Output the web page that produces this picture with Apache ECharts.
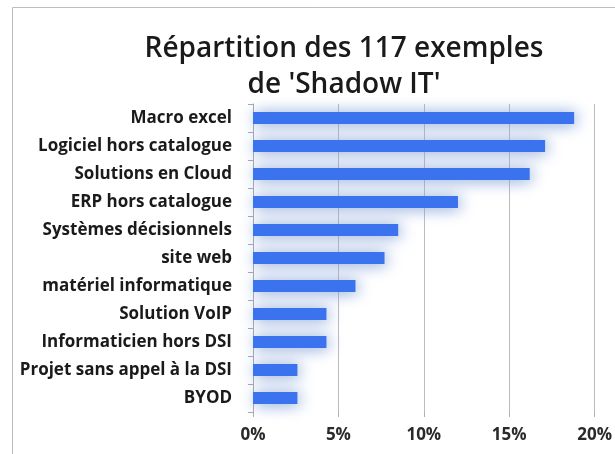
<!DOCTYPE html>
<html>
<head>
<meta charset="utf-8">
<script src="https://cdn.jsdelivr.net/npm/echarts@6/dist/echarts.min.js"></script>
<style>
html,body{margin:0;padding:0;background:#fff;}
#c{width:615px;height:454px;}
</style>
</head>
<body>
<div id="c"></div>
<script>
// Data (top to bottom as in the picture)
const categories = ['Macro excel','Logiciel hors catalogue','Solutions en Cloud','ERP hors catalogue','Systèmes décisionnels','site web','matériel informatique','Solution VoIP','Informaticien hors DSI','Projet sans appel à la DSI','BYOD'];
const shares = [18.8, 17.1, 16.2, 12.0, 8.5, 7.7, 6.0, 4.3, 4.3, 2.6, 2.6];
const xTicks = [0, 5, 10, 15, 20];
const titleLines = ['Répartition des 117 exemples', "de 'Shadow IT'"];

const chart = echarts.init(document.getElementById('c'), null, {renderer:'canvas'});
const font = '"Open Sans", Lato, sans-serif';
chart.setOption({
  backgroundColor: '#fff',
  animation: false,
  title: {
    text: titleLines.join('\n'),
    left: 339, top: 26, textAlign: 'center',
    textStyle: {fontFamily: font, fontSize: 28, fontWeight: 600, color: '#1a1a1a', lineHeight: 36}
  },
  graphic: [{
    type: 'polyline', silent: true,
    shape: {points: [[12.5, 454], [12.5, 7.5], [615, 7.5]]},
    style: {stroke: '#bdbdbd', lineWidth: 1, fill: null}
  }],
  grid: {left: 253, right: 19, top: 104, bottom: 42, containLabel: false},
  xAxis: {
    type: 'value', min: xTicks[0], max: xTicks[xTicks.length-1], interval: 5,
    axisLine: {show: false},
    axisTick: {show: true, length: 5, lineStyle: {color: '#b0b0b0'}},
    splitLine: {show: true, lineStyle: {color: '#bcbcbc', width: 1}},
    axisLabel: {formatter: '{value}%', fontFamily: font, fontSize: 17, fontWeight: 'bold', color: '#2a2a2a', margin: 15}
  },
  yAxis: {
    type: 'category', data: categories, inverse: true,
    axisLine: {show: true, lineStyle: {color: '#a8a8a8'}},
    axisTick: {show: true, length: 5, inside: false, lineStyle: {color: '#a8a8a8'}},
    axisLabel: {fontFamily: font, fontSize: 17, fontWeight: 'bold', color: '#1a1a1a', margin: 21}
  },
  series: [{
    type: 'bar', data: shares, barWidth: 12,
    itemStyle: {
      color: '#3b73ef',
      shadowColor: 'rgba(130,160,215,1)', shadowBlur: 16, shadowOffsetX: 2, shadowOffsetY: 1
    }
  }]
});
</script>
</body>
</html>
